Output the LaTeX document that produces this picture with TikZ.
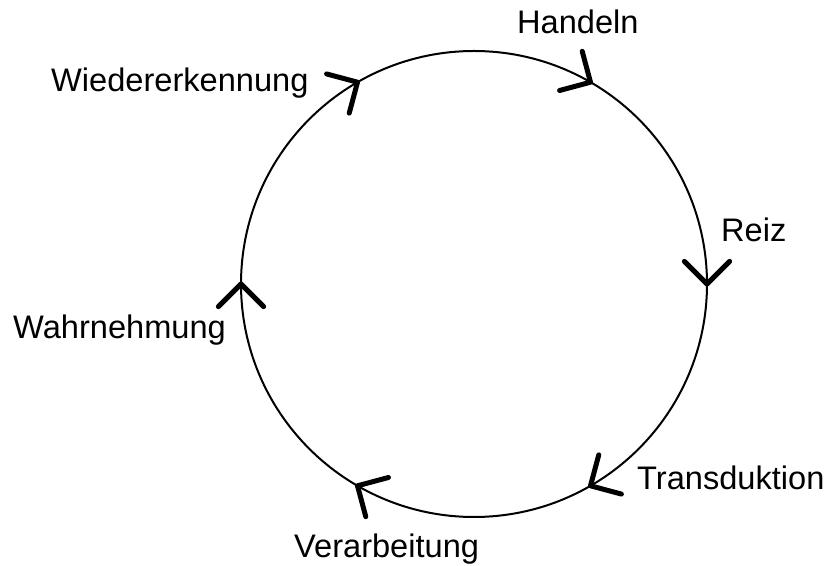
\documentclass[tikz,border=0pt]{standalone}
\usepackage{fontspec}
\setmainfont{Liberation Sans}
\usetikzlibrary{calc}
\begin{document}
\begin{tikzpicture}[x=1pt,y=1pt,
  ring/.style={circle,draw,line width=2pt,inner sep=0pt,outer sep=0pt,minimum size=466pt},
  label/.style={anchor=base west,inner sep=0pt,font=\fontsize{32.6}{38}\selectfont},
  arms/.style={line width=5pt,line cap=round,line join=round}]
\useasboundingbox (0,0) rectangle (827,565);
% the cycle
\node[ring] (ring) at (474,281) {};
% stage labels
\node[label] (handeln) at (517,531) {Handeln};
\node[label] (reiz) at (721,323) {Reiz};
\node[label] (trans) at (637,75) {Transduktion};
\node[label] (verarb) at (294,8) {Verarbeitung};
\node[label] (wahr) at (13,226) {Wahrnehmung};
\node[label] (wieder) at (51,473) {Wiedererkennung};
% clockwise open arrowheads on the ring
\foreach \a in {60,0,-60,-120,180,120}{
  \draw[arms] ($(ring.\a)+(\a+45:32)$) -- (ring.\a) -- ($(ring.\a)+(\a+135:32)$);
}
\end{tikzpicture}
\end{document}
